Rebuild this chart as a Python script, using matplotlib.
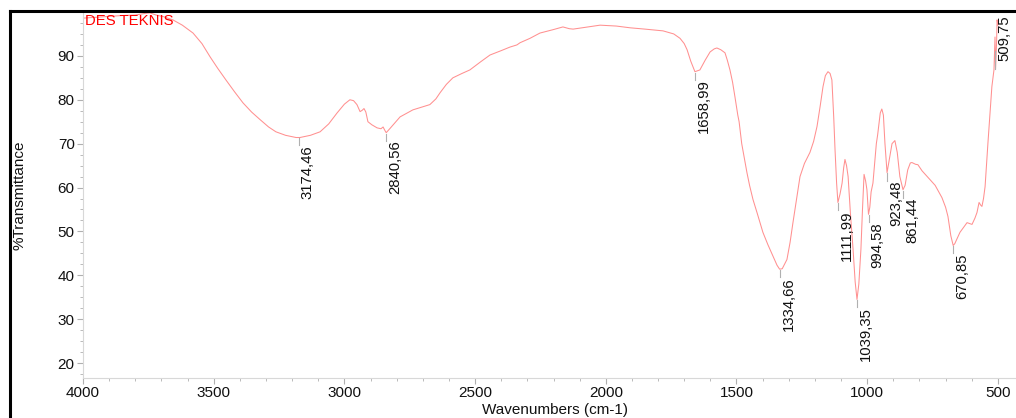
import matplotlib.pyplot as plt
from matplotlib.lines import Line2D
from matplotlib.ticker import MultipleLocator

plt.rcParams['font.family'] = ['Liberation Sans', 'DejaVu Sans']

# Spectrum (wavenumber, %T)
wavenumber = [4000, 3950, 3900, 3850, 3800, 3760, 3744, 3720, 3690, 3656, 3620, 3579, 3545,
              3514, 3485, 3453, 3420, 3388, 3355, 3323, 3290, 3262, 3225, 3185, 3170, 3130,
              3093, 3060, 3028, 3000, 2979, 2965, 2952, 2940, 2932, 2925, 2918, 2910, 2895,
              2875, 2860, 2852, 2845, 2840, 2825, 2787, 2738, 2700, 2673, 2650, 2634, 2610,
              2585, 2550, 2520, 2480, 2443, 2400, 2367, 2340, 2328, 2290, 2252, 2200, 2164,
              2140, 2125, 2080, 2022, 1960, 1907, 1850, 1781, 1740, 1716, 1700, 1689, 1675,
              1659, 1650, 1640, 1620, 1601, 1585, 1575, 1560, 1544, 1535, 1525, 1515, 1506,
              1495, 1490, 1480, 1460, 1450, 1437, 1420, 1399, 1380, 1360, 1345, 1335, 1325,
              1307, 1295, 1284, 1270, 1257, 1240, 1219, 1205, 1192, 1180, 1169, 1160, 1150,
              1142, 1135, 1128, 1123, 1117, 1112, 1104, 1096, 1090, 1085, 1079, 1073, 1064,
              1054, 1046, 1039, 1032, 1024, 1018, 1012, 1006, 1001, 995, 990, 985, 978, 965,
              960, 950, 944, 938, 932, 924, 915, 905, 894, 885, 875, 863, 855, 845, 835, 829,
              815, 806, 790, 760, 740, 714, 700, 691, 680, 671, 665, 645, 630, 618, 608, 599,
              588, 580, 572, 566, 561, 555, 549, 538, 530, 523, 515, 512, 511, 509, 505, 503,
              500, 498]
transmittance = [98.6, 98.8, 99.0, 99.2, 99.3, 99.7, 99.8, 99.3, 98.9, 98.2, 97.0, 95.2, 92.8,
                 89.8, 87.2, 84.5, 81.8, 79.3, 77.2, 75.5, 73.8, 72.7, 71.9, 71.4, 71.4, 71.9,
                 72.7, 74.5, 77.0, 79.0, 80.0, 79.8, 78.9, 77.3, 77.6, 78.0, 77.2, 75.0, 74.3,
                 73.6, 73.4, 73.8, 73.0, 72.5, 73.5, 76.1, 77.7, 78.4, 78.9, 80.2, 81.6, 83.5,
                 85.0, 86.0, 86.8, 88.6, 90.2, 91.2, 92.0, 92.5, 93.0, 94.0, 95.2, 96.0, 96.6,
                 96.2, 96.1, 96.5, 97.0, 96.8, 96.4, 96.1, 95.7, 95.0, 94.0, 92.8, 91.4, 88.8,
                 86.4, 86.6, 86.8, 89.0, 90.9, 91.6, 91.8, 91.4, 90.7, 89.0, 86.8, 84.0, 80.7,
                 76.5, 75.0, 70.0, 63.4, 60.5, 57.3, 54.0, 49.8, 47.0, 44.3, 42.3, 41.4, 41.5,
                 43.6, 47.5, 52.0, 57.5, 62.5, 65.5, 68.0, 70.5, 73.9, 78.5, 83.0, 85.5, 86.4,
                 86.0, 84.5, 76.0, 68.6, 61.0, 56.6, 58.5, 61.0, 64.5, 66.4, 65.0, 62.5, 54.0,
                 45.9, 38.5, 34.5, 38.0, 45.9, 55.0, 63.0, 61.5, 59.5, 53.9, 55.5, 59.0, 61.0, 70.0,
                 72.0, 77.0, 77.9, 76.5, 70.0, 63.4, 66.5, 70.0, 70.7, 68.0, 62.5, 59.5, 60.5, 64.0,
                 65.6, 65.7, 65.3, 65.2, 63.8, 61.8, 60.5, 57.7, 55.5, 53.4, 49.0, 46.8, 47.2,
                 49.8, 51.0, 52.0, 51.8, 51.6, 53.0, 54.3, 56.6, 56.0, 55.7, 57.5, 60.2, 70.2,
                 77.0, 83.0, 86.8, 92.0, 94.3, 87.0, 93.0, 98.2, 97.0, 98.0]

# Peak labels
peak_wn = [3174.46, 2840.56, 1658.99, 1334.66, 1111.99, 1039.35, 994.58, 923.48, 861.44, 670.85]
peak_t = [71.4, 72.5, 86.4, 41.4, 56.6, 34.5, 53.9, 63.4, 59.5, 46.8]
top_peak_wn = 509.75
top_peak_t = 87.0

fig = plt.figure(figsize=(10.16, 4.18), dpi=100)
ax = fig.add_axes([83 / 1016, 40 / 418, 933 / 1016, 366 / 418])

ax.plot(wavenumber, transmittance, color='#ff9090', linewidth=0.75)

ax.set_xlim(4000, 430.7)
ax.set_ylim(16.6, 100)

for wn, t in zip(peak_wn, peak_t):
    ax.plot([wn, wn], [t - 0.2, t - 1.8], color='#b0b0b0', linewidth=0.8)
    ax.text(wn - 7, t - 1.8, f"{wn:.2f}".replace('.', ','), rotation=90,
            ha='left', va='top', fontsize=10.7, color='#111111')

ax.plot([top_peak_wn, top_peak_wn], [top_peak_t, top_peak_t + 4], color='#b0b0b0', linewidth=0.8)
ax.text(top_peak_wn - 7, 99.3, f"{top_peak_wn:.2f}".replace('.', ','), rotation=90,
        ha='left', va='top', fontsize=10.7, color='#111111')

ax.text(3992, 99.6, "DES TEKNIS", color='red', fontsize=10.7, ha='left', va='top')

ax.xaxis.set_major_locator(MultipleLocator(500))
ax.xaxis.set_minor_locator(MultipleLocator(100))
ax.yaxis.set_major_locator(MultipleLocator(10))
ax.yaxis.set_minor_locator(MultipleLocator(2.5))
ax.set_yticks(range(20, 100, 10))
ax.tick_params(which='major', length=4, color='#b0b0b0', labelsize=11, labelcolor='#111111', pad=2)
ax.tick_params(which='minor', length=2, color='#b0b0b0')

for s in ['top', 'right']:
    ax.spines[s].set_visible(False)
for s in ['left', 'bottom']:
    ax.spines[s].set_color('#d8d8d8')
    ax.spines[s].set_linewidth(0.8)

fig.text(20 / 1016, 1 - 195 / 418, "%Transmittance", rotation=90, ha='center', va='center',
         fontsize=11, color='#111111')
fig.text(555 / 1016, 1 - 410 / 418, "Wavenumbers (cm-1)", ha='center', va='center',
         fontsize=11, color='#111111')

# outer black frame (left and top edges)
fig.add_artist(Line2D([10 / 1016, 10 / 1016], [0, 1 - 11 / 418], color='black', linewidth=2.2,
                      transform=fig.transFigure))
fig.add_artist(Line2D([10 / 1016, 1], [1 - 11 / 418, 1 - 11 / 418], color='black', linewidth=2.2,
                      transform=fig.transFigure))

fig.savefig('out.png', dpi=100)
